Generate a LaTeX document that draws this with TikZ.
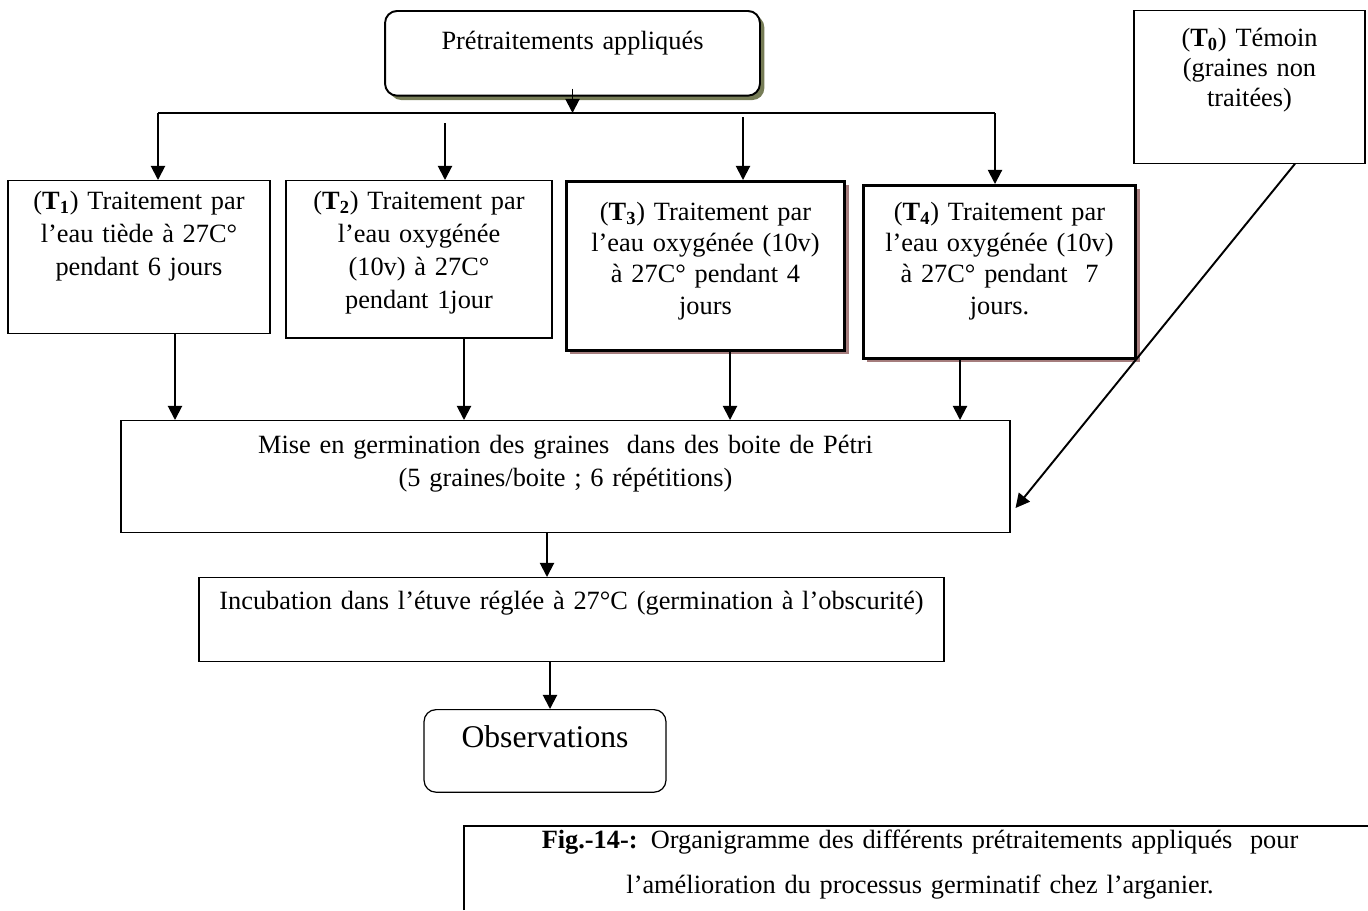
\documentclass[tikz,border=0pt]{standalone}
\usepackage{fontspec}
\setmainfont{Liberation Serif}
\usetikzlibrary{arrows.meta, positioning, calc, shadows}

\definecolor{olivedrop}{RGB}{118,124,86}
\definecolor{rosedrop}{RGB}{165,125,125}

\tikzset{
  box/.style={draw, line width=0.7pt, fill=white, align=center, inner sep=0pt, anchor=north, font=\fontsize{15}{18.7}\selectfont},
  heavybox/.style={box, line width=1.7pt, drop shadow={shadow xshift=2pt, shadow yshift=-2pt, fill=rosedrop, opacity=1}},
  roundbox/.style={box, rounded corners=0.24cm},
  arr/.style={line width=1.1pt, -{Triangle[width=8pt,length=8pt]}},
}

\begin{document}
\begin{tikzpicture}[x=0.02cm, y=-0.02cm]
\useasboundingbox (0,0) rectangle (1368,910);
\node at (572.5,10) [roundbox, line width=1.1pt, drop shadow={shadow xshift=2.5pt, shadow yshift=-2.5pt, fill=olivedrop, opacity=1}, text width=7.5cm, text height=22.1pt, text depth=26.1pt] (pretrait) {Prétraitements appliqués};
\node at (139,180) [box, text width=5.24cm, text height=16.5pt, text depth=70.3pt] (tone) {(\textbf{T\textsubscript{1}}) Traitement par\\ l’eau tiède à 27C°\\ pendant 6 jours};
\node at (419,180) [box, text width=5.32cm, text height=16.5pt, text depth=73.1pt] (ttwo) {(\textbf{T\textsubscript{2}}) Traitement par\\ l’eau oxygénée\\ (10v) à 27C°\\ pendant 1jour};
\node at (705.5,180) [heavybox, font=\fontsize{15}{17.8}\selectfont, text width=5.58cm, text height=22.1pt, text depth=74.3pt] (tthree) {(\textbf{T\textsubscript{3}}) Traitement par\\ l’eau oxygénée (10v)\\ à 27C° pendant 4\\ jours};
\node at (999.5,184) [heavybox, font=\fontsize{15}{17.8}\selectfont, text width=5.46cm, text height=19.8pt, text depth=78.9pt] (tfour) {(\textbf{T\textsubscript{4}}) Traitement par\\ l’eau oxygénée (10v)\\ à 27C° pendant\ \ 7\\ jours.};
\node at (1249.5,10) [box, font=\fontsize{15}{17}\selectfont, text width=4.62cm, text height=20.4pt, text depth=66.4pt] (tzero) {(\textbf{T\textsubscript{0}}) Témoin\\ (graines non\\ traitées)};
\node at (565.5,420) [box, text width=17.78cm, text height=18.7pt, text depth=44.8pt] (germ) {Mise en germination des graines\ \ dans des boite de Pétri\\ (5 graines/boite ; 6 répétitions)};
\node at (571.5,577) [box, text width=14.9cm, text height=18.1pt, text depth=29.5pt] (incub) {Incubation dans l’étuve réglée à 27°C (germination à l’obscurité)};
\node at (545,709) [roundbox, font=\fontsize{18}{21}\selectfont, text width=4.84cm, text height=21.5pt, text depth=25.5pt] (obs) {Observations};
\node at (920,832) [anchor=north, inner sep=0pt, align=center, font=\fontsize{15}{25.5}\selectfont, text width=17cm, text height=9.1pt] (caption) {\textbf{Fig.-14-:} Organigramme des différents prétraitements appliqués\ \ pour\\ l’amélioration du processus germinatif chez l’arganier.};
\draw [line width=0.7pt] (464,910) |- (1368,826);
\coordinate (busl) at (158,113);
\coordinate (busr) at (995,113);
\coordinate (ttwoin) at (445,123);
\coordinate (tthreein) at (743,117);
\coordinate (tonefoot) at ($(tone.south)+(36,0)$);
\coordinate (ttwofoot) at ($(ttwo.south)+(45,0)$);
\coordinate (tthreefoot) at ($(tthree.south)+(24.5,0)$);
\coordinate (tfourfoot) at ($(tfour.south)+(-39.5,0)$);
\coordinate (tzerofoot) at ($(tzero.south)+(45.5,0)$);
\coordinate (germside) at ($(germ.north east)+(5,88)$);
\coordinate (germfoot) at ($(germ.south)+(-18.5,0)$);
\coordinate (incubfoot) at ($(incub.south)+(-21.5,0)$);
\draw [arr] ($(pretrait.south)+(0,-8)$) -- (pretrait.south |- busl);
\draw [line width=1.1pt] (busl) -- (busr);
\draw [arr] (busl) -- (busl |- tone.north);
\draw [arr] (ttwoin) -- (ttwoin |- ttwo.north);
\draw [arr] (tthreein) -- (tthreein |- tthree.north);
\draw [arr] (busr) -- (busr |- tfour.north);
\draw [arr] (tonefoot) -- (tonefoot |- germ.north);
\draw [arr] (ttwofoot) -- (ttwofoot |- germ.north);
\draw [arr] (tthreefoot) -- (tthreefoot |- germ.north);
\draw [arr] (tfourfoot) -- (tfourfoot |- germ.north);
\draw [arr] (tzerofoot) -- (germside);
\draw [arr] (germfoot) -- (germfoot |- incub.north);
\draw [arr] (incubfoot) -- (incubfoot |- obs.north);
\end{tikzpicture}
\end{document}
